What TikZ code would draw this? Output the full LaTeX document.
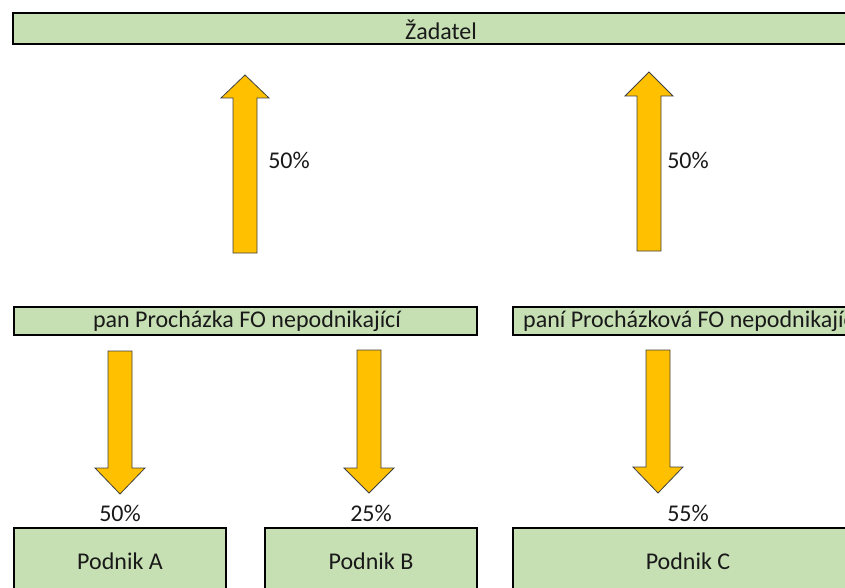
\documentclass[tikz,border=0pt]{standalone}
\usepackage{fontspec}
\setmainfont{Carlito}
\usepackage{tikz}
\definecolor{boxgreen}{HTML}{C6E0B4}
\definecolor{arrgold}{HTML}{FFC000}
\tikzset{
	greenbox/.style={fill=boxgreen,draw=black,line width=2.4pt},
	arrbody/.style={fill=arrgold,draw=black!75,line width=0.8pt},
	lbl/.style={font=\fontsize{24}{27}\selectfont,text=black!90,inner sep=0pt}
}

\begin{document}
\begin{tikzpicture}[x=1pt,y=-1pt]
			\useasboundingbox (0,0) rectangle (845,588);
			\clip (0,0) rectangle (845,588);

			% boxes
			\draw[greenbox] (13,13) rectangle (900,44);
			\draw[greenbox] (14,307) rectangle (477,335);
			\draw[greenbox] (513,307) rectangle (900,335);
			\draw[greenbox] (14,528) rectangle (226,620);
			\draw[greenbox] (265,528) rectangle (477,620);
			\draw[greenbox] (513,528) rectangle (900,620);

			\node[lbl] (zad) at (441,30) {Žadatel};
			\node[lbl] (pan) at (247,321) {pan Procházka FO nepodnikající};
			\node[lbl,anchor=west] (pani) at (523,321) {paní Procházková FO nepodnikající};
			\node[lbl] (pa) at (120,561) {Podnik A};
			\node[lbl] (pb) at (371,561) {Podnik B};
			\node[lbl] (pc) at (688,561) {Podnik C};

			% arrows up
			\draw[arrbody] (233,253) -- (233,98) -- (221,98) -- (245,75) -- (269,98) -- (257,98) -- (257,253) -- cycle;
			\draw[arrbody] (637,251) -- (637,96) -- (625,96) -- (649,72) -- (673,96) -- (661,96) -- (661,251) -- cycle;

			% arrows down
			\draw[arrbody] (108,351) -- (108,468) -- (95,468) -- (120,494) -- (145,468) -- (132,468) -- (132,351) -- cycle;
			\draw[arrbody] (357,350) -- (357,468) -- (344,468) -- (369,493) -- (394,468) -- (381,468) -- (381,350) -- cycle;
			\draw[arrbody] (646,350) -- (646,467) -- (633,467) -- (658,493) -- (683,467) -- (670,467) -- (670,350) -- cycle;

			\node[lbl] (p1) at (289,160) {50\%};
			\node[lbl] (p2) at (688,160) {50\%};
			\node[lbl] (p3) at (120,513) {50\%};
			\node[lbl] (p4) at (371,513) {25\%};
			\node[lbl] (p5) at (688,513) {55\%};
		\end{tikzpicture}
\end{document}
